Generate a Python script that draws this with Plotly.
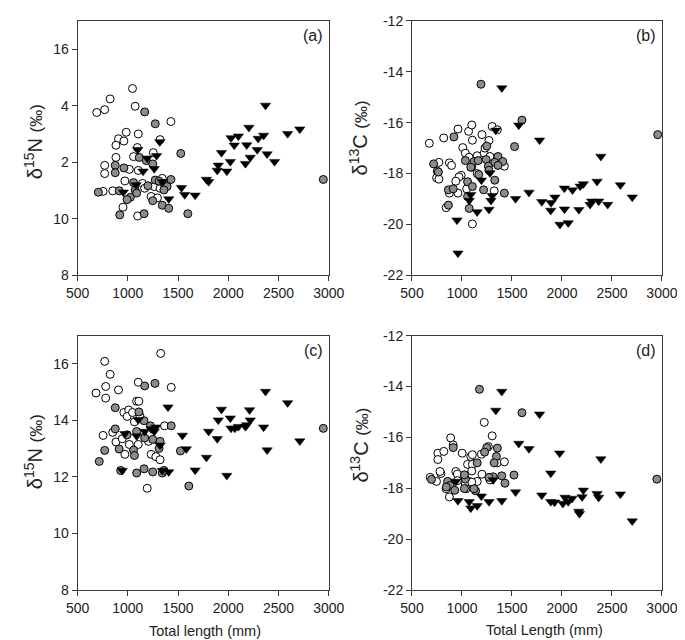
import plotly.graph_objects as go

# ---------------- data (Total length mm, isotope value) ----------------
# Panel (a) d15N
a_open_x = [1047, 824, 1073, 770, 691, 1429, 984, 1104, 907, 961, 882, 1321, 1095, 1254, 1057, 882, 770, 1015, 1104, 770, 971, 1146, 1263, 1321, 1168, 754, 850, 1232, 1295, 952, 1098, 1343]
a_open_y = [14.61, 14.24, 13.98, 13.86, 13.76, 13.44, 13.06, 13.0, 12.83, 12.75, 12.6, 12.8, 12.52, 12.34, 12.2, 12.17, 11.89, 11.75, 11.71, 11.6, 11.34, 11.25, 11.14, 11.08, 11.08, 10.97, 10.99, 10.79, 10.74, 10.41, 10.1, 11.43]
a_grey_x = [1168, 1273, 1527, 1114, 1184, 1248, 875, 961, 875, 1057, 1273, 1311, 1429, 1359, 1200, 1391, 1359, 707, 914, 1073, 1088, 1025, 993, 1248, 1343, 1407, 920, 1162, 1597, 2945]
a_grey_y = [13.78, 13.36, 12.31, 12.17, 12.06, 11.94, 11.89, 11.8, 11.63, 11.28, 11.37, 11.33, 11.39, 11.25, 11.17, 11.14, 11.02, 10.94, 10.99, 11.02, 10.91, 10.76, 10.68, 10.64, 10.48, 10.37, 10.14, 10.18, 10.18, 11.39]
a_tri_x = [955, 1082, 1098, 1152, 1193, 1263, 1286, 1318, 1343, 1407, 1534, 1566, 1670, 1782, 1804, 1890, 1900, 1932, 1985, 2020, 2027, 2059, 2100, 2170, 2183, 2205, 2218, 2288, 2297, 2351, 2370, 2386, 2460, 2590, 2711]
a_tri_y = [10.94, 11.2, 12.44, 11.68, 12.14, 11.77, 12.23, 12.72, 11.31, 10.7, 11.1, 10.85, 10.83, 11.39, 11.31, 11.71, 11.89, 12.34, 11.68, 12.02, 12.86, 12.6, 12.92, 11.95, 12.61, 13.23, 12.17, 12.44, 12.84, 12.95, 14.01, 12.29, 12.02, 13.01, 13.17]

# Panel (b) d13C
b_open_x = [673, 817, 960, 1066, 1098, 1200, 1302, 1354, 1104, 1008, 1034, 1072, 1152, 1222, 1280, 1424, 769, 874, 896, 753, 746, 769, 992, 970, 938, 1152, 1047, 874, 960, 842, 1104, 1322, 1098, 1230, 1270]
b_open_y = [-16.81, -16.6, -16.25, -16.34, -16.09, -16.47, -16.15, -16.28, -16.69, -16.98, -17.2, -17.36, -17.3, -17.2, -17.33, -17.71, -17.56, -17.58, -17.68, -17.91, -18.17, -18.22, -18.07, -18.13, -18.3, -18.0, -18.6, -18.77, -18.77, -19.34, -19.98, -18.68, -17.75, -17.0, -16.7]
b_grey_x = [919, 1248, 1526, 716, 764, 1034, 1120, 1162, 1242, 1360, 1408, 1328, 1264, 1088, 1360, 1270, 1056, 1168, 1328, 1104, 1216, 864, 912, 1424, 1056, 1072, 864, 1190, 1600, 2958]
b_grey_y = [-16.56, -16.92, -16.94, -17.62, -17.94, -17.49, -17.53, -17.49, -17.45, -17.33, -17.53, -17.56, -17.71, -17.75, -17.68, -17.87, -18.32, -18.04, -18.26, -18.51, -18.64, -18.64, -18.6, -18.77, -18.9, -19.37, -19.24, -14.49, -15.9, -16.47]
b_tri_x = [950, 960, 1072, 1088, 1152, 1194, 1270, 1280, 1290, 1302, 1338, 1398, 1536, 1568, 1670, 1776, 1798, 1888, 1891, 1930, 1980, 2024, 2025, 2063, 2105, 2169, 2182, 2214, 2281, 2297, 2351, 2367, 2389, 2457, 2584, 2703]
b_tri_y = [-19.83, -21.13, -19.06, -18.83, -19.51, -18.26, -19.41, -17.98, -19.06, -18.87, -16.3, -14.64, -18.99, -16.1, -18.74, -16.69, -19.11, -19.45, -19.15, -18.93, -20.0, -18.58, -19.4, -19.94, -18.65, -19.42, -18.5, -18.41, -19.22, -19.09, -18.31, -19.09, -17.33, -19.22, -18.45, -18.93]

# Panel (c) d15N
c_open_x = [1327, 770, 824, 780, 684, 780, 907, 1104, 1432, 1088, 1110, 961, 1009, 993, 1047, 1120, 1066, 1365, 754, 850, 882, 945, 1015, 1104, 1206, 971, 1232, 1279, 1321, 1193]
c_open_y = [16.37, 16.09, 15.63, 15.2, 14.97, 14.79, 15.08, 15.35, 15.17, 14.68, 14.68, 14.28, 14.37, 14.14, 14.28, 14.16, 13.95, 13.81, 13.47, 13.58, 13.24, 13.35, 13.15, 13.15, 13.26, 12.8, 12.8, 12.72, 12.61, 11.6]
c_grey_x = [1168, 1270, 875, 1110, 1162, 1432, 1225, 875, 993, 1088, 1168, 1248, 1321, 1311, 770, 914, 1057, 1066, 1524, 716, 929, 1088, 1162, 1248, 1343, 1359, 1607, 2945]
c_grey_y = [15.22, 15.31, 14.45, 14.3, 13.99, 13.81, 13.81, 13.7, 13.49, 13.61, 13.38, 13.33, 13.26, 13.01, 12.94, 12.99, 12.95, 12.76, 12.92, 12.55, 12.23, 12.14, 12.29, 12.18, 12.14, 12.23, 11.68, 13.72]
c_tri_x = [945, 971, 1088, 1104, 1168, 1232, 1263, 1279, 1321, 1343, 1407, 1400, 1543, 1582, 1670, 1782, 1804, 1890, 1900, 1932, 1985, 2020, 2027, 2065, 2100, 2170, 2183, 2211, 2218, 2351, 2370, 2386, 2590, 2711]
c_tri_y = [12.23, 13.53, 13.45, 14.02, 13.61, 13.7, 13.61, 13.76, 13.12, 12.23, 12.18, 14.47, 13.47, 12.99, 12.24, 12.69, 13.61, 13.35, 14.01, 14.39, 12.05, 14.08, 13.72, 13.72, 13.78, 13.78, 13.84, 14.37, 14.01, 13.76, 15.02, 12.95, 14.62, 13.27]

# Panel (d) d13C
d_open_x = [1223, 887, 1302, 912, 1264, 1194, 1002, 1088, 759, 759, 818, 1104, 1354, 1424, 1056, 938, 954, 1104, 1098, 1200, 1072, 1034, 1152, 789, 780, 682, 745, 868, 954, 1040, 842, 874, 1098, 1280]
d_open_y = [-15.41, -16.02, -15.94, -16.3, -16.36, -16.66, -16.62, -16.75, -16.62, -16.87, -16.55, -16.68, -17.0, -16.96, -17.06, -17.34, -17.44, -17.06, -17.32, -17.45, -17.73, -17.83, -17.73, -17.42, -17.34, -17.57, -17.73, -17.83, -17.7, -18.02, -18.02, -18.34, -17.76, -17.67]
d_grey_x = [1175, 1600, 912, 1248, 1354, 1226, 1344, 1152, 1322, 1034, 1520, 1398, 1312, 1270, 1430, 695, 856, 880, 1024, 1136, 928, 1120, 843, 1024, 2949]
d_grey_y = [-14.11, -15.03, -16.4, -16.4, -16.42, -16.58, -16.75, -17.0, -17.0, -17.64, -17.48, -17.51, -17.55, -17.57, -17.8, -17.65, -17.73, -17.89, -17.47, -18.1, -18.08, -18.02, -17.95, -18.01, -17.64]
d_tri_x = [938, 960, 1072, 1088, 1152, 1194, 1270, 1312, 1338, 1398, 1398, 1536, 1568, 1670, 1776, 1798, 1888, 1888, 1926, 1977, 2009, 2031, 2063, 2101, 2169, 2175, 2201, 2214, 2351, 2367, 2389, 2584, 2703]
d_tri_y = [-17.73, -18.49, -18.53, -18.78, -18.69, -18.31, -18.53, -17.67, -14.94, -14.2, -18.49, -18.15, -16.24, -16.45, -15.09, -18.27, -17.41, -18.53, -18.55, -16.62, -18.6, -18.36, -18.53, -18.4, -18.91, -19.0, -18.34, -18.08, -18.21, -18.36, -16.85, -18.23, -19.29]

x_ticks = [500, 1000, 1500, 2000, 2500, 3000]
n_ticks = [8, 10, 12, 14, 16]
n_ticktext_a = ["8", "10", "2", "4", "16"]
n_ticktext_c = ["8", "10", "12", "14", "16"]
c_ticks = [-22, -20, -18, -16, -14, -12]
c_ticktext = ["-22", "-20", "-18", "-16", "-14", "-12"]
panel_labels = ["(a)", "(b)", "(c)", "(d)"]

# ---------------- figure ----------------
W, H = 685, 640
FONT = "Liberation Sans, Arial, sans-serif"
GREY = "#8c8c8c"
LINE = "#3a3a3a"

fig = go.Figure()

panels = [
    (a_open_x, a_open_y, a_grey_x, a_grey_y, a_tri_x, a_tri_y, "x", "y"),
    (b_open_x, b_open_y, b_grey_x, b_grey_y, b_tri_x, b_tri_y, "x2", "y2"),
    (c_open_x, c_open_y, c_grey_x, c_grey_y, c_tri_x, c_tri_y, "x3", "y3"),
    (d_open_x, d_open_y, d_grey_x, d_grey_y, d_tri_x, d_tri_y, "x4", "y4"),
]
for ox, oy, gx, gy, tx, ty, xa, ya in panels:
    fig.add_trace(go.Scatter(x=ox, y=oy, mode="markers", xaxis=xa, yaxis=ya,
                             marker=dict(symbol="circle", size=8, color="white",
                                         line=dict(color="black", width=1)), showlegend=False))
    fig.add_trace(go.Scatter(x=gx, y=gy, mode="markers", xaxis=xa, yaxis=ya,
                             marker=dict(symbol="circle", size=8, color=GREY,
                                         line=dict(color="black", width=1)), showlegend=False))
    fig.add_trace(go.Scatter(x=tx, y=ty, mode="markers", xaxis=xa, yaxis=ya,
                             marker=dict(symbol="triangle-down", size=9, color="black",
                                         line=dict(color="black", width=0.5)), showlegend=False))

def px_x(p):
    return p / W

def px_y(p):
    return 1 - p / H

xdom_l = [px_x(60), px_x(322)]
xdom_r = [px_x(408.7), px_x(669.3)]
ydom_t = [px_y(266), px_y(5)]
ydom_b = [px_y(588.8), px_y(327.8)]

axis_common = dict(showline=True, linecolor=LINE, linewidth=1, mirror=True,
                   ticks="outside", ticklen=5, tickcolor=LINE, showgrid=False,
                   zeroline=False, tickfont=dict(family=FONT, size=14, color="#222"))

def xax(dom, anchor):
    return dict(domain=dom, anchor=anchor, range=[500, 3000], tickvals=x_ticks, **axis_common)

fig.update_layout(
    width=W, height=H, margin=dict(l=0, r=0, t=0, b=0),
    paper_bgcolor="white", plot_bgcolor="white",
    font=dict(family=FONT, color="#222"),
    xaxis=xax(xdom_l, "y"), yaxis=dict(domain=ydom_t, anchor="x", range=[8, 17], tickvals=n_ticks, ticktext=n_ticktext_a, **axis_common),
    xaxis2=xax(xdom_r, "y2"), yaxis2=dict(domain=ydom_t, anchor="x2", range=[-22, -12], tickvals=c_ticks, ticktext=c_ticktext, **axis_common),
    xaxis3=xax(xdom_l, "y3"), yaxis3=dict(domain=ydom_b, anchor="x3", range=[8, 17], tickvals=n_ticks, ticktext=n_ticktext_c, **axis_common),
    xaxis4=xax(xdom_r, "y4"), yaxis4=dict(domain=ydom_b, anchor="x4", range=[-22, -12], tickvals=c_ticks, ticktext=c_ticktext, **axis_common),
)

N_title = "δ<sup>15</sup>N <span style='font-size:17px'>(‰)</span>"
C_title = "δ<sup>13</sup>C <span style='font-size:17px'>(‰)</span>"
ann = []
for txt, x, y in [(N_title, 14, 129), (C_title, 353, 125), (N_title, 14, 447), (C_title, 353, 440)]:
    ann.append(dict(text=txt, x=px_x(x), y=px_y(y), xref="paper", yref="paper",
                    showarrow=False, textangle=-90, xanchor="center", yanchor="middle",
                    font=dict(family=FONT, size=20, color="#222")))
for txt, x, y in [("Total length (mm)", 193, 631), ("Total Length (mm)", 547, 630)]:
    ann.append(dict(text=txt, x=px_x(x), y=px_y(y), xref="paper", yref="paper",
                    showarrow=False, xanchor="center", yanchor="middle",
                    font=dict(family=FONT, size=14.5, color="#222")))
for txt, x, y in zip(panel_labels, [318, 665, 318, 665], [20, 20, 343, 343]):
    ann.append(dict(text=txt, x=px_x(x), y=px_y(y), xref="paper", yref="paper",
                    showarrow=False, xanchor="right", yanchor="middle",
                    font=dict(family=FONT, size=16, color="#222")))
fig.update_layout(annotations=ann)

fig.write_html("out.html")
